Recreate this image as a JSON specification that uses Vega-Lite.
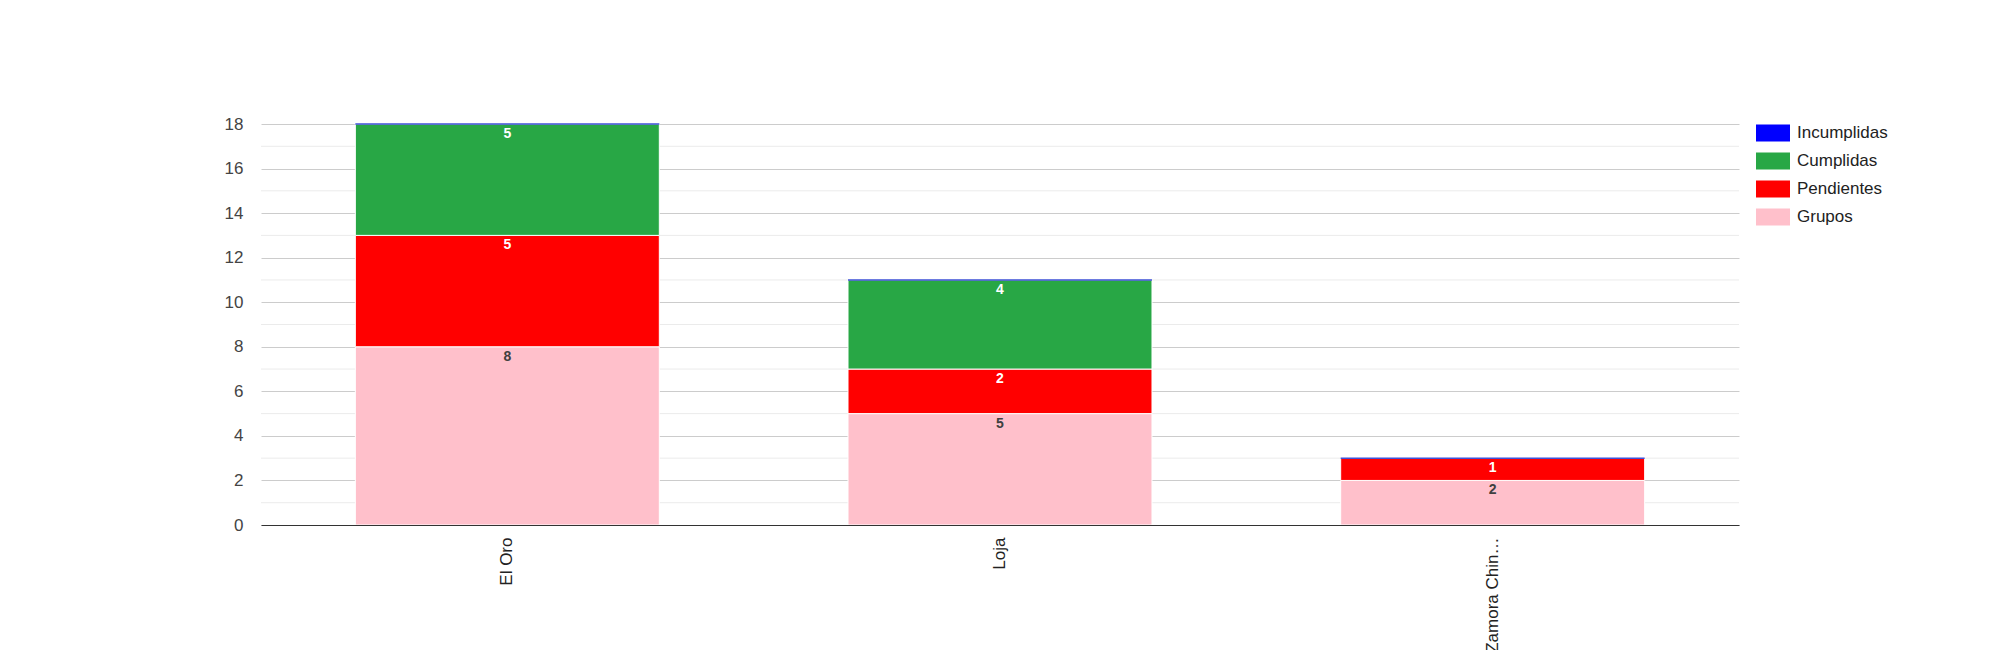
{
  "$schema": "https://vega.github.io/schema/vega-lite/v6.json",
  "width": 1478,
  "height": 401,
  "autosize": {"type": "none"},
  "padding": {"left": 261, "top": 124, "right": 261, "bottom": 125},
  "background": "white",
  "datasets": {
    "estados": [
      {"provincia": "El Oro", "estado": "Grupos", "orden": 1, "valor": 8},
      {"provincia": "El Oro", "estado": "Pendientes", "orden": 2, "valor": 5},
      {"provincia": "El Oro", "estado": "Cumplidas", "orden": 3, "valor": 5},
      {"provincia": "El Oro", "estado": "Incumplidas", "orden": 4, "valor": 0},
      {"provincia": "Loja", "estado": "Grupos", "orden": 1, "valor": 5},
      {"provincia": "Loja", "estado": "Pendientes", "orden": 2, "valor": 2},
      {"provincia": "Loja", "estado": "Cumplidas", "orden": 3, "valor": 4},
      {"provincia": "Loja", "estado": "Incumplidas", "orden": 4, "valor": 0},
      {"provincia": "Zamora Chinchipe", "estado": "Grupos", "orden": 1, "valor": 2},
      {"provincia": "Zamora Chinchipe", "estado": "Pendientes", "orden": 2, "valor": 1},
      {"provincia": "Zamora Chinchipe", "estado": "Cumplidas", "orden": 3, "valor": 0},
      {"provincia": "Zamora Chinchipe", "estado": "Incumplidas", "orden": 4, "valor": 0}
    ],
    "menores": [
      {"v": 1}, {"v": 3}, {"v": 5}, {"v": 7}, {"v": 9},
      {"v": 11}, {"v": 13}, {"v": 15}, {"v": 17}
    ]
  },
  "layer": [
    {
      "data": {"name": "menores"},
      "mark": {"type": "rule", "color": "#ebebeb", "strokeWidth": 1},
      "encoding": {
        "y": {"field": "v", "type": "quantitative"}
      }
    },
    {
      "data": {"name": "estados"},
      "transform": [
        {"stack": "valor", "groupby": ["provincia"], "sort": [{"field": "orden", "order": "ascending"}], "as": ["y0", "y1"]}
      ],
      "mark": {"type": "bar"},
      "encoding": {
        "x": {
          "field": "provincia",
          "type": "nominal",
          "sort": ["El Oro", "Loja", "Zamora Chinchipe"],
          "scale": {"paddingInner": 0.383, "paddingOuter": 0.1915},
          "axis": {
            "title": null,
            "labelAngle": -90,
            "labelFontSize": 17,
            "labelColor": "#222222",
            "labelPadding": 12,
            "labelLimit": 120,
            "ticks": false,
            "domainColor": "#333333",
            "domainWidth": 1,
            "grid": false,
            "zindex": 1
          }
        },
        "y": {
          "field": "y1",
          "type": "quantitative",
          "scale": {"domain": [0, 18], "nice": false},
          "axis": {
            "title": null,
            "values": [0, 2, 4, 6, 8, 10, 12, 14, 16, 18],
            "gridColor": "#cccccc",
            "labelFontSize": 17,
            "labelColor": "#444444",
            "labelPadding": 18,
            "ticks": false,
            "tickSize": 0,
            "domain": false
          }
        },
        "y2": {"field": "y0"},
        "color": {
          "field": "estado",
          "type": "nominal",
          "scale": {
            "domain": ["Incumplidas", "Cumplidas", "Pendientes", "Grupos"],
            "range": ["#0000ff", "#28a745", "#ff0000", "#ffc0cb"]
          },
          "legend": {
            "title": null,
            "orient": "none",
            "legendX": 1495,
            "legendY": -8,
            "symbolType": "M-1,-0.5H1V0.5H-1Z",
            "symbolSize": 1156,
            "symbolStrokeWidth": 0,
            "symbolOpacity": 1,
            "labelFontSize": 17,
            "labelColor": "#222222",
            "labelOffset": 7,
            "rowPadding": 2
          }
        },
        "stroke": {
          "condition": {"test": "datum.estado === 'Incumplidas'", "value": "#3f51d8"},
          "value": "white"
        },
        "strokeWidth": {
          "condition": {"test": "datum.estado === 'Incumplidas'", "value": 1.5},
          "value": 1
        }
      }
    },
    {
      "data": {"name": "estados"},
      "transform": [
        {"stack": "valor", "groupby": ["provincia"], "sort": [{"field": "orden", "order": "ascending"}], "as": ["y0", "y1"]},
        {"filter": "datum.valor > 0"}
      ],
      "mark": {"type": "text", "baseline": "middle", "align": "center", "dy": 10, "fontSize": 14, "fontWeight": "bold"},
      "encoding": {
        "x": {"field": "provincia", "type": "nominal", "sort": ["El Oro", "Loja", "Zamora Chinchipe"]},
        "y": {"field": "y1", "type": "quantitative"},
        "text": {"field": "valor", "type": "quantitative"},
        "color": {
          "condition": {"test": "datum.estado === 'Grupos'", "value": "#404040"},
          "value": "white"
        }
      }
    }
  ],
  "config": {
    "font": "Liberation Sans",
    "view": {"stroke": null}
  }
}
